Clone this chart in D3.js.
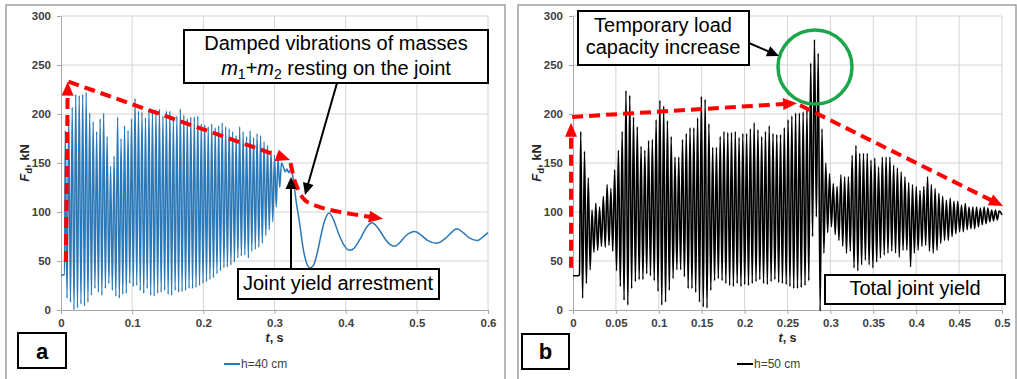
<!DOCTYPE html>
<html><head><meta charset="utf-8">
<script src="https://cdn.jsdelivr.net/npm/d3@7"></script>
<style>
body{margin:0;background:#fff;}
svg{display:block;font-family:"Liberation Sans",Arial,sans-serif;}
</style></head><body>
<svg id="c" width="1017" height="379"></svg>
<script>
// ---------- DATA ----------
const yTicks = [0, 50, 100, 150, 200, 250, 300];
const yTickLabels = ["0", "50", "100", "150", "200", "250", "300"];
const aXTicks = [0, 0.1, 0.2, 0.3, 0.4, 0.5, 0.6];
const aXTickLabels = ["0", "0.1", "0.2", "0.3", "0.4", "0.5", "0.6"];
const bXTicks = [0, 0.05, 0.1, 0.15, 0.2, 0.25, 0.3, 0.35, 0.4, 0.45, 0.5];
const bXTickLabels = ["0", "0.05", "0.1", "0.15", "0.2", "0.25", "0.3", "0.35", "0.4", "0.45", "0.5"];

// panel a (h=40 cm): static part, oscillation extremes (period), tail after arrest
const aSeriesName = "h=40 cm";
const aPreT = [0, 0.0035, 0.005];
const aPreF = [35, 36, 36];
const aCycleStart = 0.006, aCyclePeriod = 0.0049;
const aPeaks = [183,195,207,220,219,220,222,201,192,182,195,201,177,147,157,197,175,188,183,195,
  216,203,202,196,205,203,204,205,198,203,203,195,198,205,199,195,197,197,198,190,
  189,187,190,186,188,191,187,185,182,178,187,182,177,183,176,180,178,172,168,163,158,155,150];
const aTroughs = [12,8,0,2,6,4,8,15,22,18,15,22,27,20,14,12,16,17,27,24,
  25,20,17,22,15,14,17,18,20,16,15,20,18,19,20,22,22,23,25,27,
  29,31,33,37,40,43,44,46,49,53,55,56,53,60,62,64,68,76,82,90,105,125];
const aTailT = [0.3125,0.315,0.3175,0.32,0.3225,0.325,0.328,0.331,0.335,0.34,0.345,0.35,0.355,0.36,0.365,0.37,0.377,
  0.383,0.39,0.397,0.405,0.41,0.42,0.43,0.437,0.445,0.455,0.462,0.469,0.475,0.485,0.497,0.505,0.515,0.528,
  0.54,0.55,0.556,0.565,0.575,0.585,0.592,0.6];
const aTailF = [146,141,144,140,143,139,125,108,90,64,48,43,46,58,75,90,99,
  92,78,67,61,62,72,85,89,84,73,67,65,68,76,80,77,71,68,
  73,80,83,79,73,71,74,79];

// panel b (h=50 cm)
const bSeriesName = "h=50 cm";
const bPreT = [0, 0.006, 0.0075];
const bPreF = [35, 35, 36];
const bCycleStart = 0.009, bCyclePeriod = 0.004394;
const bPeaks = [182,162,135,102,109,105,116,128,124,143,
  163,182,224,219,197,187,167,163,173,174,
  194,214,208,193,177,156,156,174,180,186,
  186,196,218,215,190,166,166,177,182,181,
  181,182,176,180,180,185,191,184,177,182,
  188,180,179,179,186,194,198,201,201,202,
  204,252,276,262,185,150,139,129,126,138,
  136,136,158,168,160,160,160,153,155,146,
  156,156,156,148,145,141,136,130,128,126,
  122,126,136,128,124,119,116,112,114,111,
  111,107,109,105,105,105,104,105,104,102,102,101];
const bTroughs = [12,27,41,59,61,65,64,66,60,40,
  24,10,5,22,29,31,31,37,35,30,
  19,5,8,20,32,41,41,34,22,22,
  18,8,3,2,20,30,32,30,27,25,
  24,27,24,26,25,27,29,31,27,26,
  29,31,28,27,26,24,22,22,23,25,
  30,75,95,-1,58,79,85,77,71,65,
  58,60,43,40,46,51,46,43,49,53,
  56,58,60,58,54,61,61,44,58,61,
  65,66,60,58,61,68,71,71,75,78,
  80,80,82,83,83,85,87,88,90,91,92];
const bTailT = [0.5];
const bTailF = [97];

// envelope annotations (data coordinates)
const aRedUp = [[0.0068, 49], [0.0095, 233]];
const aRedDecay = [[0.0105, 233], [0.3218, 153]];
const aRedDrop = [[0.3225, 150], [0.3246, 143], [0.3302, 128], [0.3428, 112], [0.3639, 105], [0.392, 100], [0.4524, 93]];
const bRedUp = [[-0.0023, 43], [-0.0023, 191]];
const bRedRise = [[-0.001, 197], [0.2611, 211]];
const bRedFall = [[0.2646, 209], [0.5012, 106]];

// ---------- DRAW ----------
const svg = d3.select("#c");

function buildSeries(preT, preF, start, period, peaks, troughs, tailT, tailF) {
  const pts = preT.map((t, i) => [t, preF[i]]);
  peaks.forEach((v, i) => {
    pts.push([start + i * period, v]);
    if (i < troughs.length) pts.push([start + (i + 0.5) * period, troughs[i]]);
  });
  tailT.forEach((t, i) => pts.push([t, tailF[i]]));
  return pts;
}

function arrow(g, pts, opt) {
  // pts in pixel coords; draws line (optionally curved) with filled triangular head at last point
  const n = pts.length;
  const [tx, ty] = pts[n - 1], [px, py] = pts[n - 2];
  const dx = tx - px, dy = ty - py, L = Math.hypot(dx, dy), ux = dx / L, uy = dy / L;
  const bx = tx - ux * opt.hl, by = ty - uy * opt.hl;
  const linePts = pts.slice(0, n - 1).concat([[tx - ux * opt.hl * 0.6, ty - uy * opt.hl * 0.6]]);
  g.append("path")
    .attr("d", d3.line().curve(opt.curve || d3.curveLinear)(linePts))
    .attr("fill", "none").attr("stroke", opt.color).attr("stroke-width", opt.sw)
    .attr("stroke-dasharray", opt.dash || null);
  const hw = opt.hw / 2;
  g.append("path")
    .attr("d", `M${tx},${ty}L${bx - uy * hw},${by + ux * hw}L${bx + uy * hw},${by - ux * hw}Z`)
    .attr("fill", opt.color);
}

function textBox(g, x, y, w, h, lines) {
  g.append("rect").attr("x", x).attr("y", y).attr("width", w).attr("height", h)
    .attr("fill", "#fff").attr("stroke", "#000").attr("stroke-width", 2);
  lines.forEach(l => {
    const t = g.append("text").attr("x", l.x).attr("y", l.y).attr("text-anchor", "middle")
      .attr("font-size", 20).attr("fill", "#000");
    l.parts.forEach(p => {
      const s = t.append("tspan").text(p.t);
      if (p.i) s.attr("font-style", "italic");
      if (p.sub) s.attr("font-size", 14).attr("dy", 4);
      if (p.up) s.attr("dy", -4);
    });
  });
}

function drawPanel(p) {
  const g = svg.append("g");
  // panel frame
  g.append("rect").attr("x", p.frame[0]).attr("y", p.frame[1]).attr("width", p.frame[2]).attr("height", p.frame[3])
    .attr("fill", "none").attr("stroke", "#a0a0a0").attr("stroke-width", 1.5);
  const x = d3.scaleLinear().domain(p.xDomain).range(p.xRange);
  const y = d3.scaleLinear().domain([0, 300]).range([310, 16]);
  g.selectAll("line.vg").data(p.xTicks.slice(1)).join("line").attr("class", "vg")
    .attr("x1", d => x(d)).attr("x2", d => x(d)).attr("y1", y(0)).attr("y2", y(300))
    .attr("stroke", "#d4d4d4").attr("stroke-width", 1);
  g.selectAll("line.hg").data(yTicks.slice(1)).join("line").attr("class", "hg")
    .attr("x1", x(p.xDomain[0])).attr("x2", x(p.xDomain[1])).attr("y1", d => y(d)).attr("y2", d => y(d))
    .attr("stroke", "#d4d4d4").attr("stroke-width", 1);

  const ax = g.append("g").attr("transform", `translate(0,${y(0)})`)
    .call(d3.axisBottom(x).tickValues(p.xTicks).tickFormat((d, i) => p.xLabels[i]).tickSize(4).tickSizeOuter(0).tickPadding(5));
  const ay = g.append("g").attr("transform", `translate(${x(p.xDomain[0])},0)`)
    .call(d3.axisLeft(y).tickValues(yTicks).tickFormat((d, i) => yTickLabels[i]).tickSize(4).tickSizeOuter(0).tickPadding(6));
  [ax, ay].forEach(a => {
    a.select(".domain").attr("stroke", "#a6a6a6");
    a.selectAll(".tick line").attr("stroke", "#a6a6a6");
    a.selectAll(".tick text").attr("font-family", "Liberation Sans, Arial, sans-serif")
      .attr("font-size", 11.5).attr("font-weight", "bold").attr("fill", "#404040");
  });

  // series
  const pts = buildSeries(p.preT, p.preF, p.start, p.period, p.peaks, p.troughs, p.tailT, p.tailF);
  g.append("path").attr("d", d3.line().x(d => x(d[0])).y(d => y(d[1])).curve(d3.curveMonotoneX)(pts))
    .attr("fill", "none").attr("stroke", p.color).attr("stroke-width", p.sw).attr("stroke-linejoin", "round");

  // axis titles
  const cx = (p.xRange[0] + p.xRange[1]) / 2;
  const tt = g.append("text").attr("x", cx).attr("y", 342).attr("text-anchor", "middle")
    .attr("font-size", 12.5).attr("font-weight", "bold").attr("fill", "#262626");
  tt.append("tspan").attr("font-style", "italic").text("t");
  tt.append("tspan").text(", s");
  const yt = g.append("text").attr("transform", `translate(${p.yTitleX},163) rotate(-90)`).attr("text-anchor", "middle")
    .attr("font-size", 13).attr("font-weight", "bold").attr("fill", "#262626");
  yt.append("tspan").attr("font-style", "italic").text("F");
  yt.append("tspan").attr("font-size", 9.5).attr("dy", 3).text("d");
  yt.append("tspan").attr("dy", -3).text(", kN");

  // legend
  g.append("line").attr("x1", p.legX).attr("x2", p.legX + 16).attr("y1", 364).attr("y2", 364)
    .attr("stroke", p.color).attr("stroke-width", 2);
  g.append("text").attr("x", p.legX + 17).attr("y", 368).attr("font-size", 12).attr("fill", "#404040").text(p.name);

  // panel letter
  g.append("rect").attr("x", p.letterBox[0]).attr("y", p.letterBox[1]).attr("width", p.letterBox[2]).attr("height", p.letterBox[3])
    .attr("fill", "#fff").attr("stroke", "#000").attr("stroke-width", 2);
  g.append("text").attr("x", p.letterBox[0] + p.letterBox[2] / 2).attr("y", 358.5).attr("text-anchor", "middle")
    .attr("font-size", 22).attr("font-weight", "bold").attr("fill", "#000").text(p.letter);

  return { g, x, y };
}

// ---- panel a ----
const A = drawPanel({
  frame: [6, 5, 499, 380], xDomain: [0, 0.6], xRange: [61, 488], xTicks: aXTicks, xLabels: aXTickLabels,
  preT: aPreT, preF: aPreF, start: aCycleStart, period: aCyclePeriod, peaks: aPeaks, troughs: aTroughs,
  tailT: aTailT, tailF: aTailF, color: "#2a78b7", sw: 1.5, yTitleX: 29, legX: 224, name: aSeriesName,
  letterBox: [18, 333, 48, 35], letter: "a"
});
{
  const px = d => [A.x(d[0]), A.y(d[1])];
  const red = { color: "#ff0000", sw: 4, dash: "11,6", hl: 14, hw: 12 };
  arrow(A.g, aRedUp.map(px), red);
  arrow(A.g, aRedDecay.map(px), red);
  arrow(A.g, aRedDrop.map(px), Object.assign({}, red, { curve: d3.curveCatmullRom }));
  const blk = { color: "#000", sw: 2, hl: 12, hw: 11 };
  arrow(A.g, [[337, 83], [305, 195]], blk);
  arrow(A.g, [[291, 269], [291, 177]], blk);
  textBox(A.g, 184, 30, 304, 53, [
    { x: 336, y: 50, parts: [{ t: "Damped vibrations of masses" }] },
    { x: 336, y: 74.5, parts: [{ t: "m", i: 1 }, { t: "1", sub: 1 }, { t: "+", up: 1 }, { t: "m", i: 1 }, { t: "2", sub: 1 }, { t: " resting on the joint", up: 1 }] }
  ]);
  textBox(A.g, 238, 269, 201, 30, [{ x: 338, y: 290, parts: [{ t: "Joint yield arrestment" }] }]);
}

// ---- panel b ----
const B = drawPanel({
  frame: [518, 5, 498, 380], xDomain: [0, 0.5], xRange: [573, 1002], xTicks: bXTicks, xLabels: bXTickLabels,
  preT: bPreT, preF: bPreF, start: bCycleStart, period: bCyclePeriod, peaks: bPeaks, troughs: bTroughs,
  tailT: bTailT, tailF: bTailF, color: "#000000", sw: 1.6, yTitleX: 541, legX: 737, name: bSeriesName,
  letterBox: [522, 334, 47, 35], letter: "b"
});
{
  const px = d => [B.x(d[0]), B.y(d[1])];
  const red = { color: "#ff0000", sw: 4, dash: "11,6", hl: 14, hw: 12 };
  arrow(B.g, bRedUp.map(px), red);
  arrow(B.g, bRedRise.map(px), red);
  arrow(B.g, bRedFall.map(px), red);
  B.g.append("circle").attr("cx", 815).attr("cy", 67).attr("r", 37)
    .attr("fill", "none").attr("stroke", "#1aa64a").attr("stroke-width", 3.5);
  arrow(B.g, [[749, 43], [779, 56]], { color: "#000", sw: 2, hl: 12, hw: 11 });
  textBox(B.g, 578, 11, 171, 54, [
    { x: 663, y: 32, parts: [{ t: "Temporary load" }] },
    { x: 663, y: 53.5, parts: [{ t: "capacity increase" }] }
  ]);
  textBox(B.g, 825, 275, 180, 29, [{ x: 915, y: 295, parts: [{ t: "Total joint yield" }] }]);
}
</script>
</body></html>
